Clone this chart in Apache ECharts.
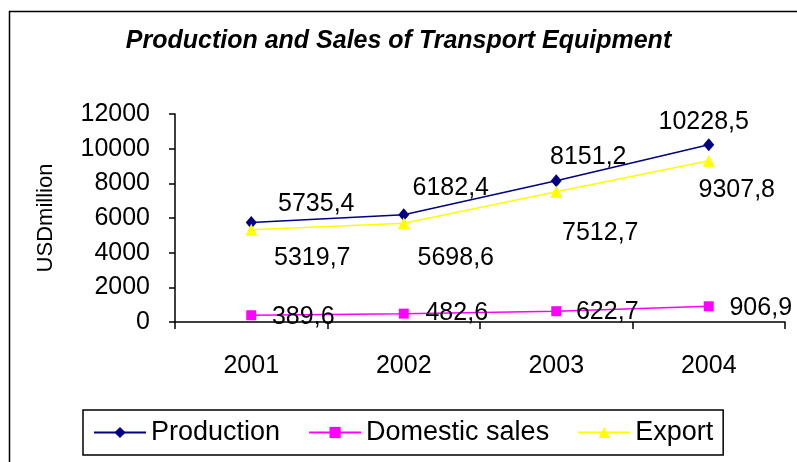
<!DOCTYPE html>
<html>
<head>
<meta charset="utf-8">
<script src="https://cdn.jsdelivr.net/npm/echarts@6/dist/echarts.min.js"></script>
<style>
  html, body { margin: 0; padding: 0; background: #fff; }
  #chart { width: 797px; height: 462px; }
</style>
</head>
<body>
<div id="chart"></div>
<script>
// data
var years = ['2001', '2002', '2003', '2004'];
var production = [5735.4, 6182.4, 8151.2, 10228.5];
var domestic = [389.6, 482.6, 622.7, 906.9];
var exportVals = [5319.7, 5698.6, 7512.7, 9307.8];
var yTicks = [0, 2000, 4000, 6000, 8000, 10000, 12000];

// where each value label sits relative to its marker (px)
var prodLabelOffset = [[65, -18], [47, -27], [32, -24], [-5, -23]];
var domLabelOffset = [[52, 2], [53, -1], [51, 1], [52, 2]];
var expLabelOffset = [[61, 28], [52, 35], [44, 41], [28, 29]];

var FONT = 'Liberation Sans, Arial, sans-serif';

function fmt(v) {
  return v.toFixed(1).replace('.', ',');
}

function makeData(values, offsets) {
  return values.map(function (v, i) {
    return { value: v, label: { offset: offsets[i] } };
  });
}

function lineSeries(name, values, offsets, color, symbol, size) {
  return {
    name: name,
    type: 'line',
    data: makeData(values, offsets),
    symbol: symbol,
    symbolSize: size,
    color: color,
    lineStyle: { color: color, width: 1.5 },
    itemStyle: { color: color },
    label: {
      show: true,
      position: 'inside',
      color: '#000',
      fontSize: 25,
      fontFamily: FONT,
      formatter: function (p) { return fmt(p.value); }
    },
    emphasis: { disabled: true }
  };
}

var chart = echarts.init(document.getElementById('chart'), null, { renderer: 'canvas' });

var option = {
  animation: false,
  backgroundColor: '#fff',
  title: {
    text: 'Production and Sales of Transport Equipment',
    left: 'center',
    top: 24,
    textStyle: { fontSize: 25, fontWeight: 'bold', fontStyle: 'italic', color: '#000', fontFamily: FONT }
  },
  legend: {
    left: 83,
    top: 410,
    padding: [9, 10, 9, 10],
    itemWidth: 52,
    itemHeight: 14,
    itemGap: 28,
    borderColor: '#000',
    borderWidth: 1.5,
    textStyle: { fontSize: 27, color: '#000', fontFamily: FONT },
    data: ['Production', 'Domestic sales', 'Export']
  },
  grid: { left: 175, right: 12, top: 114, bottom: 140, outerBoundsMode: 'none' },
  xAxis: {
    type: 'category',
    data: years,
    boundaryGap: true,
    axisLine: { lineStyle: { color: '#000', width: 1.5 } },
    axisTick: { show: true, length: 7, lineStyle: { color: '#000', width: 1.5 } },
    axisLabel: { margin: 32, fontSize: 25, color: '#000', fontFamily: FONT },
    splitLine: { show: false }
  },
  yAxis: {
    type: 'value',
    min: yTicks[0],
    max: yTicks[yTicks.length - 1],
    interval: yTicks[1] - yTicks[0],
    name: 'USDmillion',
    nameLocation: 'middle',
    nameGap: 118,
    nameRotate: 90,
    nameTextStyle: { fontSize: 22, color: '#000', fontFamily: FONT },
    axisLine: { show: true, lineStyle: { color: '#000', width: 1.5 } },
    axisTick: { show: true, length: 6, lineStyle: { color: '#000', width: 1.5 } },
    axisLabel: {
      margin: 25, fontSize: 25, color: '#000', fontFamily: FONT,
      formatter: function (v) { return String(v); }
    },
    splitLine: { show: false }
  },
  graphic: [{
    type: 'rect',
    left: 7,
    top: 9,
    shape: { width: 820, height: 480 },
    style: { fill: null, stroke: '#000', lineWidth: 1.5 },
    silent: true,
    z: -1
  }],
  series: [
    lineSeries('Production', production, prodLabelOffset, '#000080', 'diamond', [11, 13]),
    lineSeries('Domestic sales', domestic, domLabelOffset, '#FF00FF', 'rect', 10),
    lineSeries('Export', exportVals, expLabelOffset, '#FFFF00', 'triangle', 12)
  ]
};

chart.setOption(option);
</script>
</body>
</html>
